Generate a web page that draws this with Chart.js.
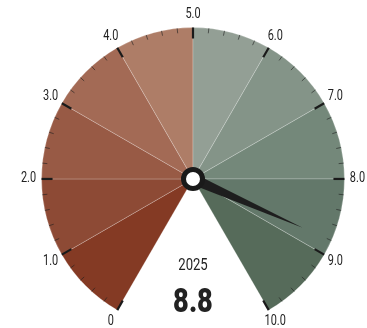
<!DOCTYPE html>
<html>
<head>
<meta charset="utf-8">
<script src="https://cdn.jsdelivr.net/npm/chart.js@4.4.1/dist/chart.umd.min.js"></script>
<style>
  html, body { margin: 0; padding: 0; background: #fff; }
  #wrap { width: 367px; height: 328px; position: relative; }
</style>
</head>
<body>
<div id="wrap"><canvas id="gauge"></canvas></div>
<script>
var bandLabels = ["0-1", "1-2", "2-3", "3-4", "4-5", "5-6", "6-7", "7-8", "8-9", "9-10"];
var bandSizes = [1, 1, 1, 1, 1, 1, 1, 1, 1, 1];
var bandColors = ["#843a24", "#8d4a35", "#985a45", "#a36a55", "#ae7d67",
                  "#939f95", "#849488", "#74887a", "#63786a", "#566b5a"];
var tickLabels = ["0", "1.0", "2.0", "3.0", "4.0", "5.0", "6.0", "7.0", "8.0", "9.0", "10.0"];
var gaugeMax = 10;
var needleValue = 8.8;
var yearLabel = "2025";

var FONT = "Roboto, 'Liberation Sans', sans-serif";

// condensed text: squeeze horizontally around the anchor
function narrowText(ctx, txt, x, y, sx) {
    ctx.save();
    ctx.translate(x, y);
    ctx.scale(sx, 1);
    ctx.fillText(txt, 0, 0);
    ctx.restore();
}

var gaugeDecor = {
    id: "gaugeDecor",
    afterDatasetsDraw: function (chart) {
        var meta = chart.getDatasetMeta(0);
        var arc = meta.data[0];
        var last = meta.data[bandSizes.length - 1];
        var ctx = chart.ctx;
        var cx = arc.x, cy = arc.y, r = arc.outerRadius;
        var a0 = arc.startAngle, a1 = last.endAngle;
        var span = a1 - a0;
        ctx.save();
        // minor + major ticks
        for (var i = 0; i <= gaugeMax * 5; i++) {
            var a = a0 + span * i / (gaugeMax * 5);
            var major = i % 5 === 0;
            var len = major ? 11 : 5;
            ctx.beginPath();
            ctx.moveTo(cx + Math.cos(a) * r, cy + Math.sin(a) * r);
            ctx.lineTo(cx + Math.cos(a) * (r - len), cy + Math.sin(a) * (r - len));
            ctx.strokeStyle = major ? "#1a1a1a" : "rgba(30,30,30,0.6)";
            ctx.lineWidth = major ? 2.2 : 1;
            ctx.stroke();
        }
        // labels
        ctx.font = "14px " + FONT;
        ctx.fillStyle = "#222";
        ctx.textAlign = "center";
        ctx.textBaseline = "middle";
        for (var k = 0; k < tickLabels.length; k++) {
            var b = a0 + span * k / gaugeMax;
            var lr = r + 11;
            narrowText(ctx, tickLabels[k], cx + Math.cos(b) * (lr + 2), cy + Math.sin(b) * (lr + 2), 0.78);
        }
        // needle
        var na = a0 + span * needleValue / gaugeMax;
        var nl = 120, nw = 5.5;
        var px = -Math.sin(na), py = Math.cos(na);
        ctx.beginPath();
        ctx.moveTo(cx + px * nw, cy + py * nw);
        ctx.lineTo(cx + Math.cos(na) * nl, cy + Math.sin(na) * nl);
        ctx.lineTo(cx - px * nw, cy - py * nw);
        ctx.closePath();
        ctx.fillStyle = "#1e1e1e";
        ctx.fill();
        // hub
        ctx.beginPath();
        ctx.arc(cx, cy, 9.5, 0, Math.PI * 2);
        ctx.fillStyle = "#fff";
        ctx.fill();
        ctx.lineWidth = 5;
        ctx.strokeStyle = "#1a1a1a";
        ctx.stroke();
        // texts
        ctx.fillStyle = "#222";
        ctx.font = "16px " + FONT;
        narrowText(ctx, yearLabel, cx, cy + 87, 0.82);
        ctx.font = "900 34px " + FONT;
        narrowText(ctx, needleValue.toFixed(1), cx, cy + 125, 0.8);
        ctx.restore();
    }
};

new Chart(document.getElementById("gauge"), {
    type: "doughnut",
    data: {
        labels: bandLabels,
        datasets: [{
            data: bandSizes,
            backgroundColor: bandColors,
            borderColor: "rgba(255,255,255,0.22)",
            borderWidth: 1
        }]
    },
    options: {
        responsive: true,
        maintainAspectRatio: false,
        animation: false,
        rotation: -150,
        circumference: 300,
        cutout: 0,
        layout: { padding: { left: 41, right: 22, top: 27, bottom: 17.4 } },
        plugins: { legend: { display: false }, tooltip: { enabled: false } }
    },
    plugins: [gaugeDecor]
});
</script>
</body>
</html>
